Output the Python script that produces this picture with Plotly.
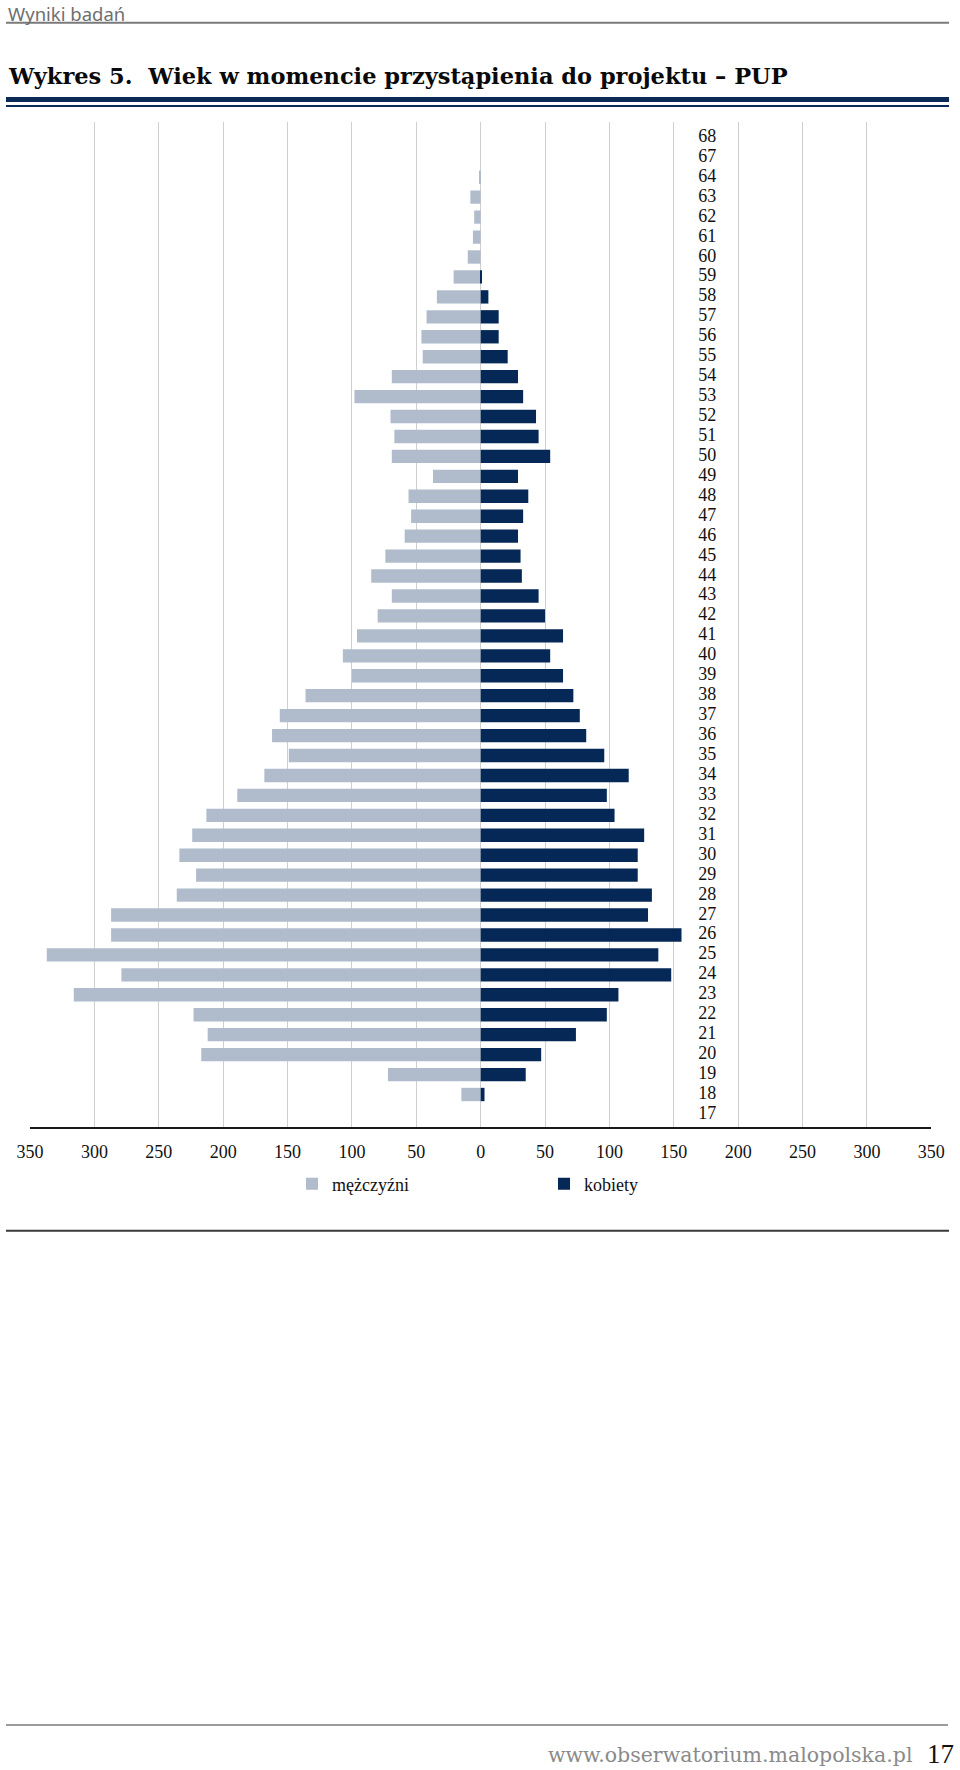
import plotly.graph_objects as go

# ---------------- data ----------------
ages = [68, 67, 64, 63, 62, 61, 60, 59, 58, 57, 56, 55, 54, 53, 52, 51, 50, 49, 48, 47,
        46, 45, 44, 43, 42, 41, 40, 39, 38, 37, 36, 35, 34, 33, 32, 31, 30, 29, 28, 27,
        26, 25, 24, 23, 22, 21, 20, 19, 18, 17]
men = [0, 0, 1, 8, 5, 6, 10, 21, 34, 42, 46, 45, 69, 98, 70, 67, 69, 37, 56, 54,
       59, 74, 85, 69, 80, 96, 107, 100, 136, 156, 162, 149, 168, 189, 213, 224, 234, 221, 236, 287,
       287, 337, 279, 316, 223, 212, 217, 72, 15, 0]
women = [0, 0, 0, 0, 0, 0, 0, 1, 6, 14, 14, 21, 29, 33, 43, 45, 54, 29, 37, 33,
         29, 31, 32, 45, 50, 64, 54, 64, 72, 77, 82, 96, 115, 98, 104, 127, 122, 122, 133, 130,
         156, 138, 148, 107, 98, 74, 47, 35, 3, 0]
tick_values = [-350, -300, -250, -200, -150, -100, -50, 0, 50, 100, 150, 200, 250, 300, 350]
tick_labels = [str(abs(v)) for v in tick_values]
series_names = ["mężczyźni", "kobiety"]

TITLE = "Wykres 5.  Wiek w momencie przystąpienia do projektu – PUP"
HEADER = "Wyniki badań"
FOOTER_URL = "www.obserwatorium.malopolska.pl"
PAGE_NO = "17"

# ---------------- styling ----------------
W, H = 960, 1770
MEN_C = "#B0BCCB"
WOMEN_C = "#062856"
NAVY = "#0B2A56"
SERIF = "Liberation Serif"

def fx(px):
    return px / W

def fy(py):
    return 1 - py / H

cats = [str(a) for a in ages]

fig = go.Figure()
fig.add_trace(go.Bar(
    y=cats, x=[-v for v in men], orientation="h", name=series_names[0],
    marker=dict(color=MEN_C, line=dict(width=0)), customdata=men,
    hovertemplate="%{y}: %{customdata}<extra></extra>",
))
fig.add_trace(go.Bar(
    y=cats, x=women, orientation="h", name=series_names[1],
    marker=dict(color=WOMEN_C, line=dict(width=0)),
    hovertemplate="%{y}: %{x}<extra></extra>",
))
# category labels placed inside the plot
fig.add_trace(go.Scatter(
    y=cats, x=[176] * len(cats), mode="text", text=cats,
    textposition="middle center", showlegend=False, hoverinfo="skip",
    textfont=dict(family=SERIF, size=18, color="#111111"),
))

fig.update_layout(
    width=W, height=H,
    margin=dict(l=0, r=0, t=0, b=0, pad=0, autoexpand=False),
    paper_bgcolor="white", plot_bgcolor="white",
    barmode="relative", bargap=0.33,
    font=dict(family=SERIF, size=18, color="#111111"),
    showlegend=True,
    legend=dict(
        orientation="h", x=fx(292), xanchor="left", y=fy(1184), yanchor="middle",
        entrywidth=207, entrywidthmode="pixels",
        font=dict(family=SERIF, size=18, color="#111111"),
        bgcolor="rgba(0,0,0,0)", borderwidth=0, traceorder="normal",
    ),
    xaxis=dict(
        domain=[fx(30), fx(931.3)], range=[-350, 350],
        tickvals=tick_values, ticktext=tick_labels,
        showgrid=True, gridcolor="#CFCFCF", gridwidth=1.3,
        zeroline=False, showline=True, linecolor="#1a1a1a", linewidth=1.6,
        ticks="", ticklabelstandoff=8, automargin=False,
        tickfont=dict(family=SERIF, size=18, color="#111111"),
        fixedrange=True,
    ),
    yaxis=dict(
        domain=[fy(1127), fy(122)], type="category",
        categoryorder="array", categoryarray=cats,
        range=[49.63, -0.77], automargin=False,
        showticklabels=False, showgrid=False, zeroline=False, showline=False,
        ticks="", fixedrange=True,
    ),
)

shapes = [
    # header rule
    dict(type="line", xref="paper", yref="paper", x0=fx(6), x1=fx(949), y0=fy(22.7), y1=fy(22.7),
         line=dict(color="#7a7a7a", width=2)),
    # title double rule
    dict(type="line", xref="paper", yref="paper", x0=fx(6), x1=fx(949), y0=fy(99.5), y1=fy(99.5),
         line=dict(color=NAVY, width=5)),
    dict(type="line", xref="paper", yref="paper", x0=fx(6), x1=fx(949), y0=fy(106), y1=fy(106),
         line=dict(color=NAVY, width=2)),
    # bottom rule of the chart box
    dict(type="line", xref="paper", yref="paper", x0=fx(6), x1=fx(949), y0=fy(1230.7), y1=fy(1230.7),
         line=dict(color="#3a3a3a", width=2)),
    # footer rule
    dict(type="line", xref="paper", yref="paper", x0=fx(6), x1=fx(948), y0=fy(1725), y1=fy(1725),
         line=dict(color="#7a7a7a", width=1.5)),
]
fig.update_layout(shapes=shapes)

annotations = [
    dict(text=HEADER, xref="paper", yref="paper", x=fx(6), y=fy(13), xanchor="left", yanchor="middle",
         showarrow=False, font=dict(family="Noto Sans", size=18.5, color="#6f6f6f")),
    dict(text="<b>" + TITLE + "</b>", xref="paper", yref="paper", x=fx(6), y=fy(75.5),
         xanchor="left", yanchor="middle", showarrow=False,
         font=dict(family="DejaVu Serif", size=22.5, color="#0a0a0a")),
    dict(text=FOOTER_URL, xref="paper", yref="paper", x=fx(914), y=fy(1755), xanchor="right",
         yanchor="middle", showarrow=False, font=dict(family="DejaVu Serif", size=20.5, color="#8a8a8a")),
    dict(text=PAGE_NO, xref="paper", yref="paper", x=fx(956), y=fy(1753.5), xanchor="right",
         yanchor="middle", showarrow=False, font=dict(family=SERIF, size=27, color="#111111")),
]
fig.update_layout(annotations=annotations)

fig.write_html(
    "out.html",
    config={"displayModeBar": False},
    post_script="document.body.style.margin='0';document.body.style.overflow='hidden';",
)
